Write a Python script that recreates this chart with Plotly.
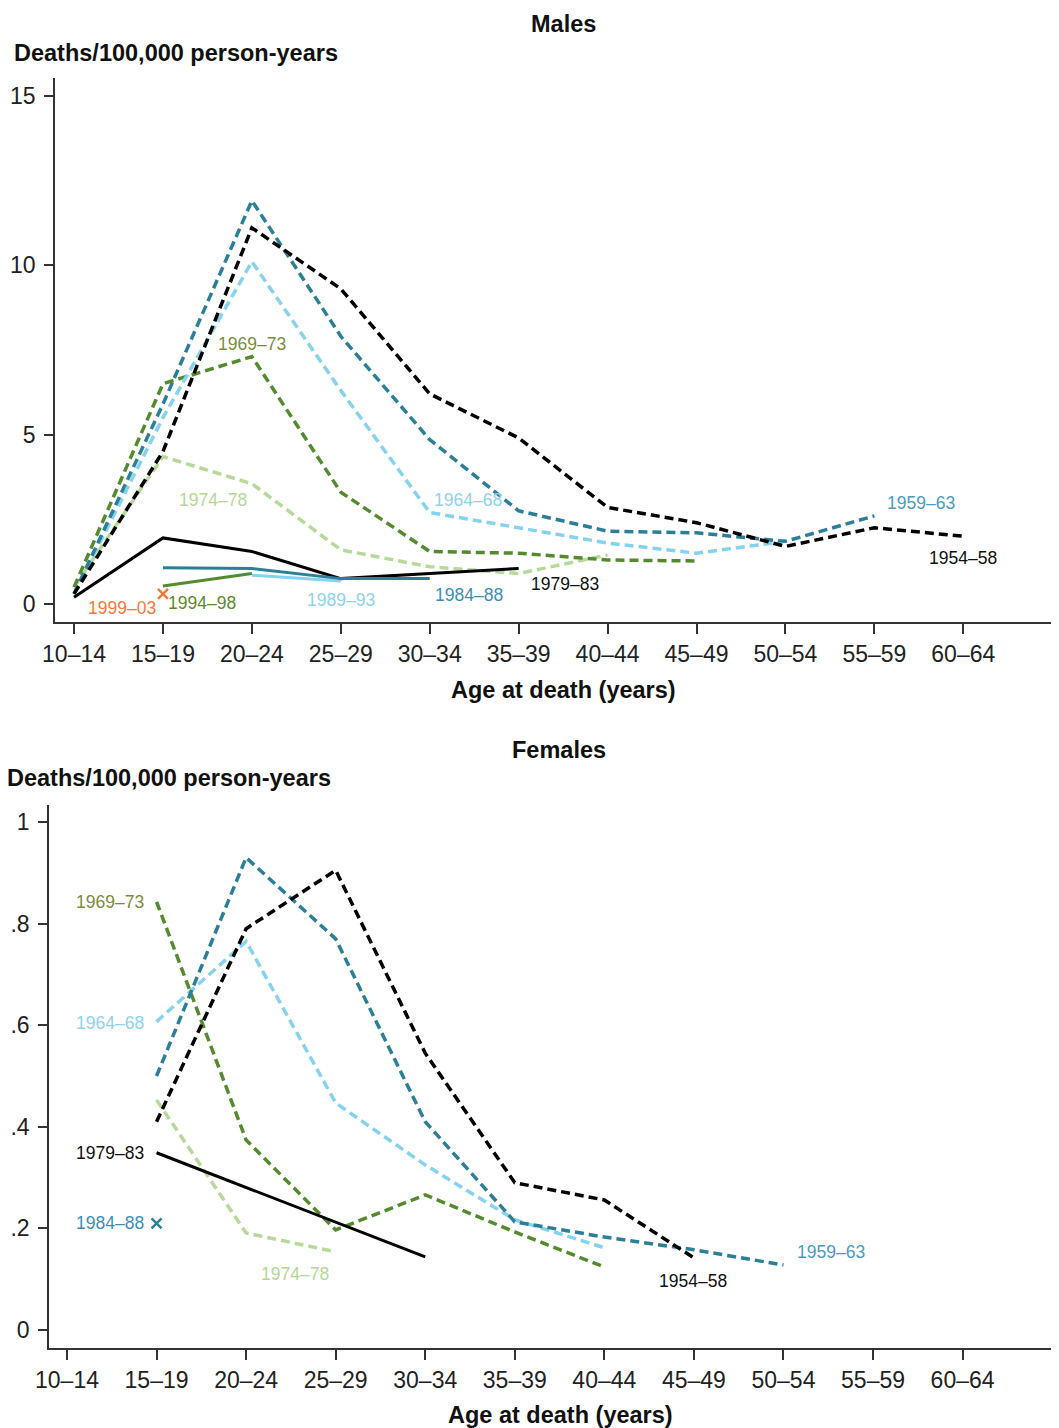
import plotly.graph_objects as go

# age groups (x categories)
ages = ['10–14', '15–19', '20–24', '25–29', '30–34', '35–39',
        '40–44', '45–49', '50–54', '55–59', '60–64']

# Males, deaths/100,000 person-years by birth cohort
m_1954_58 = [0.3, 4.5, 11.1, 9.3, 6.2, 4.9, 2.85, 2.4, 1.7, 2.25, 2.0]
m_1959_63 = [0.3, 5.9, 11.9, 7.9, 4.85, 2.75, 2.15, 2.1, 1.85, 2.6, None]
m_1964_68 = [0.3, 5.5, 10.1, 6.3, 2.7, 2.25, 1.8, 1.5, 1.85, None, None]
m_1969_73 = [0.5, 6.5, 7.3, 3.3, 1.55, 1.5, 1.3, 1.27, None, None, None]
m_1974_78 = [0.5, 4.35, 3.55, 1.6, 1.1, 0.9, 1.45, None, None, None, None]
m_1979_83 = [0.2, 1.95, 1.55, 0.75, 0.9, 1.05, None, None, None, None, None]
m_1984_88 = [None, 1.07, 1.05, 0.75, 0.75, None, None, None, None, None, None]
m_1989_93 = [None, None, 0.85, 0.68, None, None, None, None, None, None, None]
m_1994_98 = [None, 0.53, 0.9, None, None, None, None, None, None, None, None]
m_1999_03 = [None, 0.3, None, None, None, None, None, None, None, None, None]

# Females
f_1954_58 = [None, 0.41, 0.79, 0.905, 0.545, 0.29, 0.256, 0.142, None, None, None]
f_1959_63 = [None, 0.50, 0.93, 0.77, 0.41, 0.213, 0.183, 0.158, 0.128, None, None]
f_1964_68 = [None, 0.607, 0.765, 0.447, 0.325, 0.217, 0.162, None, None, None, None]
f_1969_73 = [None, 0.843, 0.374, 0.197, 0.266, 0.193, 0.124, None, None, None, None]
f_1974_78 = [None, 0.453, 0.191, 0.154, None, None, None, None, None, None, None]
f_1979_83 = [None, 0.349, None, None, 0.144, None, None, None, None, None, None]
f_1984_88 = [None, 0.21, None, None, None, None, None, None, None, None, None]

m_yticks = [0, 5, 10, 15]
f_yticks = [0, 0.2, 0.4, 0.6, 0.8, 1]
f_yticktext = ['0', '.2', '.4', '.6', '.8', '1']

BLACK = '#000000'
TEAL = '#2b7f98'
LBLUE = '#86d3f0'
DGREEN = '#558b2f'
LGREEN = '#b7da9b'
ORANGE = '#f47a3a'
FONT = 'Liberation Sans, Arial, sans-serif'
DASH = '9px,5px'

W, H = 1059, 1428
OFF = 8  # page body margin in the browser


def fx(px):
    return (px - OFF) / W


def fy(py):
    return 1 - (py - OFF) / H


fig = go.Figure()

def add_line(y, color, dash, xa, ya, gaps=False):
    width = 3 if dash == 'solid' else 3.5
    fig.add_scatter(x=ages, y=y, mode='lines', xaxis=xa, yaxis=ya,
                    line=dict(color=color, width=width, dash=dash),
                    connectgaps=gaps, showlegend=False, hoverinfo='skip')

def add_cross(y, color, xa, ya):
    fig.add_scatter(x=ages, y=y, mode='markers', xaxis=xa, yaxis=ya,
                    marker=dict(symbol='x-thin', size=10, color=color,
                                line=dict(color=color, width=2.5)),
                    showlegend=False, hoverinfo='skip')

# males
add_line(m_1974_78, LGREEN, DASH, 'x', 'y')
add_line(m_1969_73, DGREEN, DASH, 'x', 'y')
add_line(m_1964_68, LBLUE, DASH, 'x', 'y')
add_line(m_1959_63, TEAL, DASH, 'x', 'y')
add_line(m_1954_58, BLACK, DASH, 'x', 'y')
add_line(m_1979_83, BLACK, 'solid', 'x', 'y')
add_line(m_1989_93, LBLUE, 'solid', 'x', 'y')
add_line(m_1984_88, TEAL, 'solid', 'x', 'y')
add_line(m_1994_98, DGREEN, 'solid', 'x', 'y')
add_cross(m_1999_03, ORANGE, 'x', 'y')

# females
add_line(f_1974_78, LGREEN, DASH, 'x2', 'y2')
add_line(f_1969_73, DGREEN, DASH, 'x2', 'y2')
add_line(f_1964_68, LBLUE, DASH, 'x2', 'y2')
add_line(f_1959_63, TEAL, DASH, 'x2', 'y2')
add_line(f_1954_58, BLACK, DASH, 'x2', 'y2')
add_line(f_1979_83, BLACK, 'solid', 'x2', 'y2', gaps=True)
add_cross(f_1984_88, TEAL, 'x2', 'y2')

axis_common = dict(showline=True, linecolor='#333333', linewidth=1.5,
                   ticks='outside', tickcolor='#333333', tickwidth=1.5, ticklen=10,
                   showgrid=False, zeroline=False,
                   tickfont=dict(family=FONT, size=23, color='#222222'),
                   automargin=False)

fig.update_layout(
    width=W, height=H,
    margin=dict(l=0, r=0, t=0, b=0),
    paper_bgcolor='white', plot_bgcolor='white',
    font=dict(family=FONT),
    xaxis=dict(axis_common, type='category', categoryorder='array', categoryarray=ages,
               domain=[fx(55), fx(1062)], range=[-0.214, 11.11], anchor='y',
               ticklabelstandoff=1),
    yaxis=dict(axis_common, domain=[fy(622), fy(78)],
               range=[-0.53, 15.52], tickvals=m_yticks, anchor='x',
               ticklen=9, ticklabelstandoff=4),
    xaxis2=dict(axis_common, type='category', categoryorder='array', categoryarray=ages,
                domain=[fx(49), fx(1062)], range=[-0.201, 11.11], anchor='y2',
                ticklabelstandoff=1),
    yaxis2=dict(axis_common, domain=[fy(1348), fy(805)],
                range=[-0.0354, 1.0335], tickvals=f_yticks, ticktext=f_yticktext,
                anchor='x2', ticklen=9, ticklabelstandoff=4),
)

def title(text, x, y, xanchor='center'):
    fig.add_annotation(text='<b>' + text + '</b>', x=fx(x), y=fy(y), xref='paper',
                       yref='paper', xanchor=xanchor, yanchor='middle', showarrow=False,
                       font=dict(family=FONT, size=23.5, color='#111111'))

title('Males', 563, 24)
title('Deaths/100,000 person-years', 12, 53, 'left')
title('Age at death (years)', 563, 690)
title('Females', 559, 750)
title('Deaths/100,000 person-years', 5, 778, 'left')
title('Age at death (years)', 560, 1415)

def label(text, x, y, color, xa, ya, xanchor='center'):
    fig.add_annotation(text=text, x=x, y=y, xref=xa, yref=ya, xanchor=xanchor,
                       yanchor='middle', showarrow=False,
                       font=dict(family=FONT, size=17.5, color=color))

# male cohort labels
label('1999–03', 0.54, -0.12, '#f47a3a', 'x', 'y')
label('1994–98', 1.44, 0.03, '#5e8a2c', 'x', 'y')
label('1969–73', 2.0, 7.67, '#7a8d3a', 'x', 'y')
label('1974–78', 1.56, 3.07, '#b3d896', 'x', 'y')
label('1964–68', 4.43, 3.07, '#8fd3ef', 'x', 'y')
label('1989–93', 3.0, 0.12, '#8fd3ef', 'x', 'y')
label('1984–88', 4.44, 0.27, '#3d8fb2', 'x', 'y')
label('1979–83', 5.52, 0.59, '#111111', 'x', 'y')
label('1959–63', 9.52, 2.98, '#4a9bc2', 'x', 'y')
label('1954–58', 10.0, 1.36, '#111111', 'x', 'y')

# female cohort labels
label('1969–73', 0.48, 0.843, '#7a8d3a', 'x2', 'y2')
label('1964–68', 0.48, 0.604, '#8fd3ef', 'x2', 'y2')
label('1979–83', 0.48, 0.348, '#111111', 'x2', 'y2')
label('1984–88', 0.48, 0.211, '#3d8fb2', 'x2', 'y2')
label('1974–78', 2.55, 0.110, '#b3d896', 'x2', 'y2')
label('1954–58', 6.99, 0.0965, '#111111', 'x2', 'y2')
label('1959–63', 8.53, 0.154, '#4a9bc2', 'x2', 'y2')

fig.write_html("out.html")
